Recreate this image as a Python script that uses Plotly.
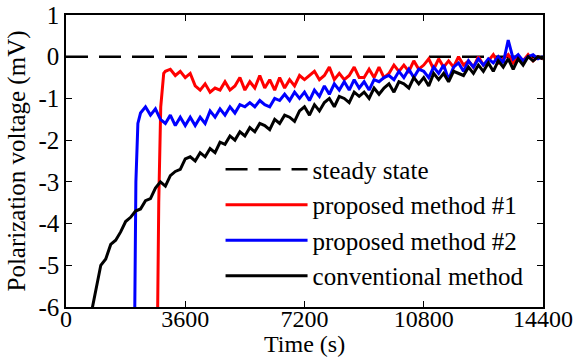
import plotly.graph_objects as go

# ---- data ----
steady_t = [0, 14400]
steady_v = [0, 0]

red_t = [2760, 2800, 2860, 2950] + list(range(3000, 14401, 150))
red_v = [-6.6, -3.5, -1.2, -0.4,
         -0.35, -0.3, -0.45, -0.35, -0.5, -0.4, -0.7, -0.8, -0.65, -0.85,
         -0.75, -0.8, -0.6, -0.8, -0.7, -0.5, -0.8, -0.6, -0.75, -0.45,
         -0.75, -0.55, -0.8, -0.5, -0.75, -0.55, -0.7, -0.45, -0.55, -0.45,
         -0.35, -0.55, -0.45, -0.25, -0.55, -0.4, -0.55, -0.45, -0.25, -0.5,
         -0.5, -0.3, -0.5, -0.25, -0.5, -0.4, -0.2, -0.35, -0.2, -0.35,
         -0.1, -0.3, -0.2, -0.05, -0.3, -0.05, -0.25, -0.1, -0.25, -0.0,
         -0.2, -0.1, -0.25, -0.0, -0.2, -0.1, 0.05, -0.15, -0.05, 0.05,
         -0.15, 0.0, -0.1, 0.05, -0.1, 0.0, -0.05]

blue_t = [2070, 2110, 2170, 2230] + list(range(2250, 14401, 150))
blue_v = [-6.6, -3.0, -1.6, -1.4,
          -1.35, -1.2, -1.4, -1.25, -1.5, -1.6, -1.4, -1.65, -1.45, -1.65,
          -1.45, -1.65, -1.45, -1.6, -1.3, -1.45, -1.25, -1.4, -1.2, -1.35,
          -1.15, -1.2, -1.1, -1.2, -1.05, -1.15, -1.2, -1.0, -1.05, -0.9,
          -1.05, -0.85, -1.0, -0.85, -1.05, -0.8, -0.95, -0.7, -0.9, -0.65,
          -0.8, -0.6, -0.8, -0.55, -0.75, -0.6, -0.8, -0.55, -0.6, -0.5,
          -0.45, -0.55, -0.35, -0.5, -0.3, -0.5, -0.3, -0.35, -0.5, -0.25,
          -0.4, -0.2, -0.55, -0.25, -0.15, -0.35, -0.1, -0.25, -0.05, -0.2,
          -0.05, -0.15, 0.0, -0.15, 0.4, -0.05, 0.05, -0.1, 0.0, 0.05,
          -0.05, 0.0]

conv_t = list(range(750, 14401, 150))
conv_v = [-6.2, -5.6, -5.0, -4.85, -4.5, -4.4, -4.2, -3.95, -3.85, -3.7,
          -3.65, -3.45, -3.4, -3.15, -3.0, -3.1, -2.85, -2.75, -2.7, -2.45,
          -2.4, -2.5, -2.3, -2.4, -2.2, -2.3, -2.05, -2.1, -1.9, -2.0,
          -1.8, -1.9, -1.7, -1.8, -1.6, -1.65, -1.75, -1.5, -1.6, -1.4,
          -1.45, -1.55, -1.3, -1.2, -1.4, -1.15, -1.3, -1.1, -1.0, -1.2,
          -0.95, -1.0, -1.1, -0.85, -0.95, -0.85, -1.0, -0.75, -0.9, -0.75,
          -0.65, -0.85, -0.6, -0.65, -0.75, -0.5, -0.65, -0.5, -0.7, -0.4,
          -0.55, -0.4, -0.6, -0.35, -0.4, -0.45, -0.25, -0.4, -0.2, -0.35,
          -0.15, -0.35, -0.1, -0.25, -0.05, -0.3, -0.05, -0.2, 0.0, -0.1,
          0.0, -0.05]

x_ticks = [0, 3600, 7200, 10800, 14400]
x_labels = ["0", "3600", "7200", "10800", "14400"]
y_ticks = [1, 0, -1, -2, -3, -4, -5, -6]
y_labels = ["1", "0", "-1", "-2", "-3", "-4", "-5", "-6"]
x_title = "Time (s)"
y_title = "Polarization voltage (mV)"

assert len(red_t) == len(red_v)
assert len(blue_t) == len(blue_v)
assert len(conv_t) == len(conv_v)

FONT = "Liberation Serif"
FS = 25

fig = go.Figure()
fig.add_trace(go.Scatter(x=steady_t, y=steady_v, mode="lines", name="steady state",
                         legendgroup="a",
                         line=dict(color="black", width=2.5, dash="22px,11px")))
fig.add_trace(go.Scatter(x=red_t, y=red_v, mode="lines", name="proposed method #1",
                         legendgroup="b",
                         line=dict(color="#ff0000", width=3)))
fig.add_trace(go.Scatter(x=blue_t, y=blue_v, mode="lines", name="proposed method #2",
                         legendgroup="c",
                         line=dict(color="#0000ff", width=3)))
fig.add_trace(go.Scatter(x=conv_t, y=conv_v, mode="lines", name="conventional method",
                         legendgroup="d",
                         line=dict(color="black", width=3)))

axis_common = dict(showline=True, linecolor="black", linewidth=1.5, mirror="ticks",
                   ticks="inside", ticklen=6, tickwidth=1.2, tickcolor="black",
                   showgrid=False, zeroline=False, automargin=False)

fig.update_layout(
    width=577, height=359,
    margin=dict(l=66, r=34, t=15, b=52),
    paper_bgcolor="white", plot_bgcolor="white",
    font=dict(family=FONT, size=FS, color="black"),
    showlegend=True,
    legend=dict(x=0.324, y=0.55, xanchor="left", yanchor="top",
                bgcolor="rgba(0,0,0,0)", borderwidth=0,
                font=dict(family=FONT, size=FS, color="black"),
                itemwidth=82, tracegroupgap=0),
    xaxis=dict(range=[0, 14400], tickvals=x_ticks, ticktext=x_labels,
               ticklabelstandoff=-11,
               tickfont=dict(family=FONT, size=24, color="black"),
               **axis_common),
    yaxis=dict(range=[-6, 1], tickvals=y_ticks, ticktext=y_labels,
               tickfont=dict(family=FONT, size=FS, color="black"),
               title=dict(text=y_title, font=dict(family=FONT, size=FS), standoff=6),
               **axis_common),
)
fig.add_annotation(text=x_title, xref="paper", yref="paper", x=0.5, y=0,
                   xanchor="center", yanchor="bottom", yshift=-51, showarrow=False,
                   borderpad=0,
                   font=dict(family=FONT, size=24, color="black"))

fig.write_html("out.html")
